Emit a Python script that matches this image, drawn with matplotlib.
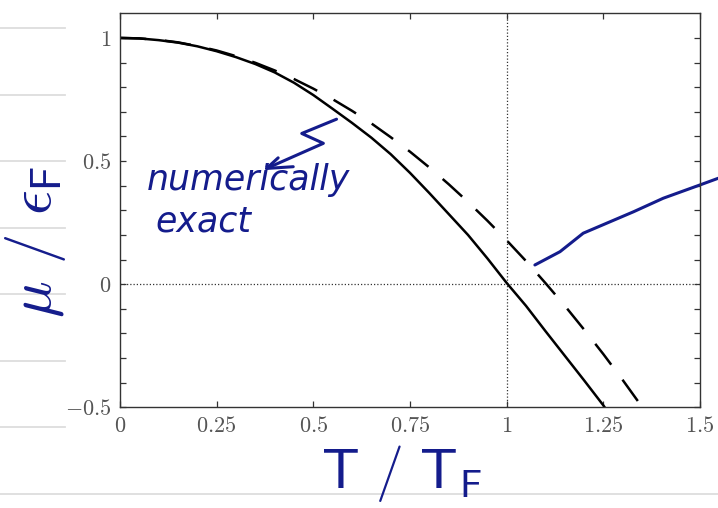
import matplotlib
matplotlib.use("Agg")
import matplotlib.pyplot as plt
from matplotlib.lines import Line2D

plt.rcParams["mathtext.fontset"] = "cm"

# numerically exact curve (solid)
exact_t = [0.0, 0.05, 0.1, 0.15, 0.2, 0.25, 0.3, 0.35, 0.4, 0.45, 0.5, 0.55, 0.6, 0.65, 0.7,
           0.75, 0.8, 0.85, 0.9, 0.95, 1.0, 1.05, 1.1, 1.15, 1.2, 1.25, 1.26]
exact_mu = [1.000, 0.998, 0.991, 0.981, 0.966, 0.946, 0.922, 0.894, 0.860, 0.818, 0.768,
            0.712, 0.655, 0.595, 0.528, 0.452, 0.370, 0.285, 0.200, 0.105, 0.005, -0.088,
            -0.190, -0.290, -0.390, -0.492, -0.515]

# Sommerfeld approximation (dashed)
approx_t = [0.0, 0.05, 0.1, 0.15, 0.2, 0.25, 0.3, 0.35, 0.4, 0.45, 0.5, 0.55, 0.6, 0.65, 0.7,
            0.75, 0.8, 0.85, 0.9, 0.95, 1.0, 1.05, 1.1, 1.15, 1.2, 1.25, 1.3, 1.35, 1.36]
approx_mu = [1.000, 0.998, 0.992, 0.982, 0.967, 0.949, 0.926, 0.899, 0.868, 0.833, 0.794,
             0.751, 0.704, 0.653, 0.597, 0.538, 0.474, 0.406, 0.334, 0.258, 0.178, 0.094,
             0.005, -0.087, -0.184, -0.284, -0.389, -0.498, -0.520]

x_ticks = [0, 0.25, 0.5, 0.75, 1.0, 1.25, 1.5]
x_labels = ["0", "0.25", "0.5", "0.75", "1", "1.25", "1.5"]
y_ticks = [-0.5, -0.4, -0.3, -0.2, -0.1, 0.0, 0.1, 0.2, 0.3, 0.4, 0.5, 0.6, 0.7, 0.8, 0.9, 1.0]
y_labels = {-0.5: "-0.5", 0.0: "0", 0.5: "0.5", 1.0: "1"}

# notebook ruling on the page (pixel rows)
rule_rows = [28, 94.5, 161, 227.5, 294, 360.5, 427]
ink = "#141c8c"

W, H = 718, 508
fig = plt.figure(figsize=(W / 100, H / 100), dpi=100)
ax = fig.add_axes([120 / W, 1 - 407.3 / H, 580 / W, 394 / H])

for r in rule_rows:
    fig.add_artist(Line2D([0, 65 / W], [1 - r / H] * 2, color="#dddddd", lw=1.3))
fig.add_artist(Line2D([0, 1], [1 - 494 / H] * 2, color="#dddddd", lw=1.3))

ax.axhline(0, color="#333333", lw=0.9, ls=(0, (1, 1.6)))
ax.axvline(1, color="#333333", lw=0.9, ls=(0, (1, 1.6)))
ax.plot(exact_t, exact_mu, color="black", lw=1.8, solid_joinstyle="round")
ax.plot(approx_t, approx_mu, color="black", lw=1.8, dashes=(10.5, 7.5))

ax.set_xlim(0, 1.5)
ax.set_ylim(-0.5, 1.1)
ax.set_xticks(x_ticks)
ax.set_xticklabels([f"${s}$" for s in x_labels])
ax.set_yticks(y_ticks)
ax.set_yticklabels([f"${y_labels[t]}$" if t in y_labels else "" for t in y_ticks])
ax.tick_params(direction="in", top=True, right=True, length=4.5, width=0.9,
               labelsize=16, labelcolor="#555555", color="#333333", pad=6)
for s in ax.spines.values():
    s.set_color("#333333")
    s.set_linewidth(1.0)

# handwritten notes
ax.text(0.07, 0.382, "numerically", color=ink, fontsize=25, fontstyle="italic")
ax.text(0.091, 0.212, "exact", color=ink, fontsize=25, fontstyle="italic")
zig_x = [0.560, 0.470, 0.526, 0.379]
zig_y = [0.670, 0.612, 0.572, 0.470]
ax.plot(zig_x, zig_y, color=ink, lw=2.2, solid_capstyle="round", solid_joinstyle="round")
ax.plot([0.409, 0.379, 0.448], [0.513, 0.470, 0.477], color=ink, lw=2.2,
        solid_capstyle="round", solid_joinstyle="round")
tail_x = [1.073, 1.138, 1.198, 1.328, 1.405, 1.500, 1.547]
tail_y = [0.078, 0.132, 0.207, 0.294, 0.349, 0.403, 0.430]
ax.plot(tail_x, tail_y, color=ink, lw=2.2, clip_on=False, solid_capstyle="round")

fig.text(36 / W, 1 - 242 / H, r"$\mu\ /\ \epsilon_{\mathsf{F}}$", color=ink, fontsize=44,
         rotation=90, ha="center", va="center")
fig.text(401 / W, 1 - 473 / H, r"$\mathsf{T\ /\ T_F}$", color=ink, fontsize=40,
         ha="center", va="center")

fig.savefig("out.png", dpi=100)
